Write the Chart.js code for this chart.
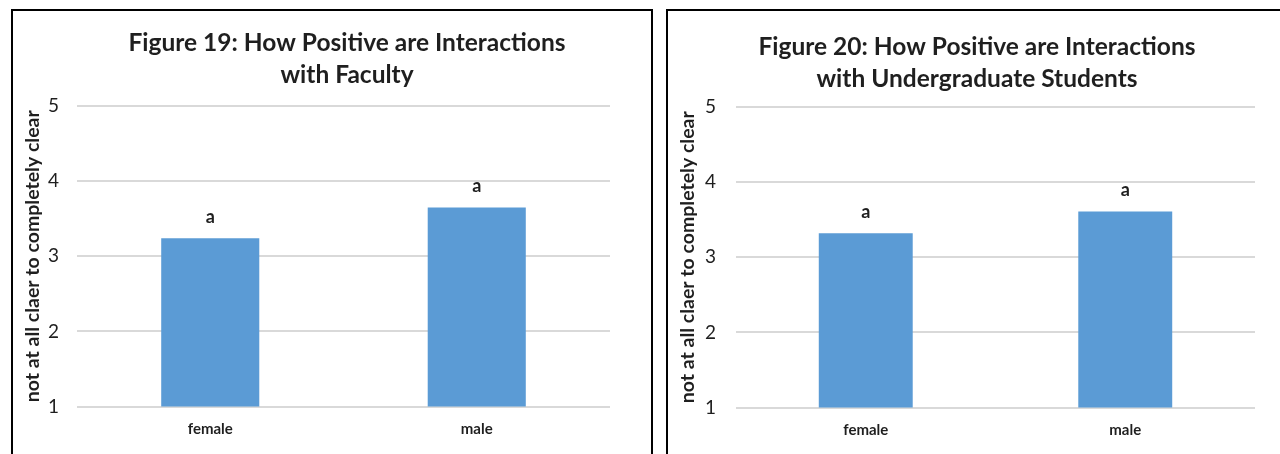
<!DOCTYPE html>
<html>
<head>
<meta charset="utf-8">
<script src="https://cdn.jsdelivr.net/npm/chart.js@4/dist/chart.umd.min.js"></script>
<style>
  html, body { margin: 0; padding: 0; background: #fff; overflow: hidden; width: 1280px; height: 454px; }
  .frame { position: absolute; border: 2px solid #000; background: #fff; box-sizing: border-box; }
  canvas { position: absolute; }
</style>
</head>
<body>
<div class="frame" id="frameA" style="left:11px; top:9px; width:642px; height:470px;"></div>
<canvas id="chartA" width="668" height="443" style="left:13px; top:11px;"></canvas>
<div class="frame" id="frameB" style="left:666px; top:9px; width:640px; height:470px;"></div>
<canvas id="chartB" width="618" height="443" style="left:668px; top:11px;"></canvas>
<script>
// Groups and mean ratings (1 = not at all clear, 5 = completely clear)
const categories = ['female', 'male'];
const facultyMeans = [3.24, 3.65];
const undergradMeans = [3.32, 3.61];
// Significance-group letters shown above each bar
const facultyLetters = ['a', 'a'];
const undergradLetters = ['a', 'a'];
const yMin = 1;
const yMax = 5;
const yStep = 1;

const FONT = 'Lato, "Liberation Sans", sans-serif';
const INK = '#1f1f1f';

// Draws a letter centred above every bar, positioned from the bar element
const barLetters = {
  id: 'barLetters',
  afterDatasetsDraw(chart, args, opts) {
    const ctx = chart.ctx;
    const meta = chart.getDatasetMeta(0);
    ctx.save();
    ctx.font = 'bold 18px ' + FONT;
    ctx.fillStyle = INK;
    ctx.textAlign = 'center';
    ctx.textBaseline = 'middle';
    meta.data.forEach((bar, i) => {
      ctx.fillText(opts.letters[i], bar.x, bar.y - 21);
    });
    ctx.restore();
  }
};

function makeChart(id, titleLines, values, letters, geo) {
  return new Chart(document.getElementById(id), {
    type: 'bar',
    data: {
      labels: categories,
      datasets: [{
        data: values,
        backgroundColor: '#5b9bd5',
        borderWidth: 0,
        categoryPercentage: 1,
        barPercentage: geo.barPct
      }]
    },
    options: {
      responsive: false,
      animation: false,
      events: [],
      layout: { padding: 0 },
      plugins: {
        legend: { display: false },
        tooltip: { enabled: false },
        title: {
          display: true,
          text: titleLines,
          color: INK,
          font: { family: FONT, size: 24.5, weight: 'bold', lineHeight: 32 / 24.5 },
          padding: { top: geo.titleTop, bottom: geo.titleBottom }
        },
        barLetters: { letters: letters }
      },
      scales: {
        x: {
          grid: { display: false, drawTicks: false },
          border: { display: false },
          ticks: { color: INK, padding: 14, font: { family: FONT, size: 15, weight: 'bold' } },
          afterFit(s) { s.height = geo.xHeight; }
        },
        y: {
          min: yMin,
          max: yMax,
          ticks: { stepSize: yStep, color: INK, padding: geo.tickPad, font: { family: FONT, size: 19 } },
          grid: { color: '#d9d9d9', lineWidth: 2, drawTicks: false },
          border: { display: false },
          title: {
            display: true,
            text: 'not at all claer to completely clear',
            color: INK,
            font: { family: FONT, size: 19.5, weight: 'bold', lineHeight: 1.2 },
            padding: { top: 8, bottom: 0 }
          },
          afterFit(s) { s.width = geo.yWidth; }
        },
        gutter: {
          type: 'linear',
          position: 'right',
          display: true,
          grid: { display: false, drawTicks: false },
          border: { display: false },
          ticks: { display: false },
          afterFit(s) { s.width = geo.rightGap; }
        }
      }
    },
    plugins: [barLetters]
  });
}

makeChart('chartA',
  ['Figure 19: How Positive are Interactions', 'with Faculty'],
  facultyMeans, facultyLetters,
  { barPct: 0.368, titleTop: 16, titleBottom: 15, xHeight: 47.5, yWidth: 64, rightGap: 71, tickPad: 18 });

makeChart('chartB',
  ['Figure 20: How Positive are Interactions', 'with Undergraduate Students'],
  undergradMeans, undergradLetters,
  { barPct: 0.362, titleTop: 20, titleBottom: 12, xHeight: 46.5, yWidth: 68, rightGap: 31, tickPad: 20 });
</script>
</body>
</html>
